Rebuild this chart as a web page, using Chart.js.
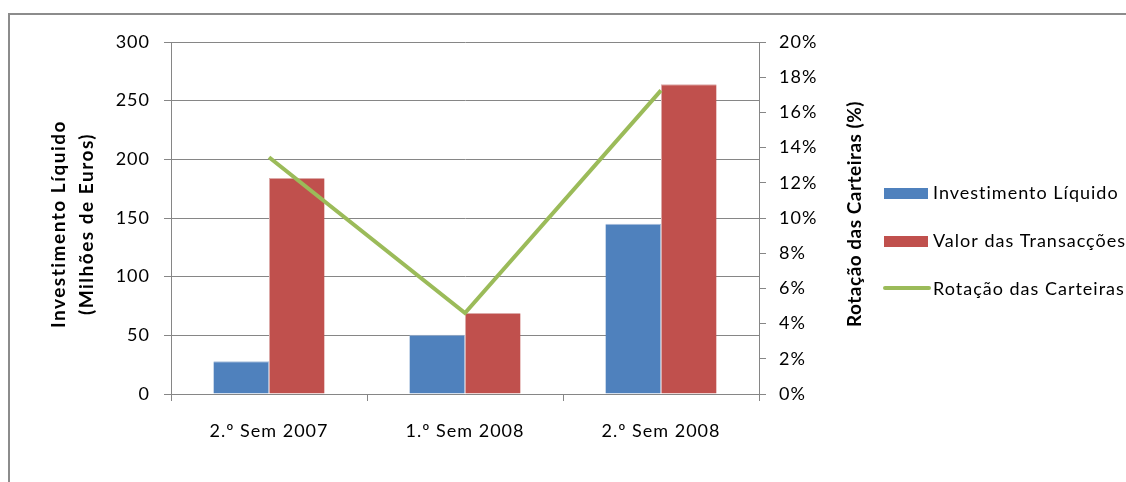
<!DOCTYPE html>
<html>
<head>
<meta charset="utf-8">
<script src="https://cdn.jsdelivr.net/npm/chart.js@4.4.1/dist/chart.umd.min.js"></script>
<style>
  html, body { margin: 0; padding: 0; background: #ffffff; }
  #wrap { width: 1126px; height: 482px; position: relative; }
</style>
</head>
<body>
<div id="wrap"><canvas id="c" width="1126" height="482"></canvas></div>
<script>
// Semesters shown on the category axis
const categories = ['2.º Sem 2007', '1.º Sem 2008', '2.º Sem 2008'];
// Net investment, millions of euros
const investimentoLiquido = [28, 50.5, 145];
// Transaction value, millions of euros
const valorTransaccoes = [184, 69, 264];
// Portfolio turnover, fraction (0.134 = 13.4 %)
const rotacaoCarteiras = [0.1345, 0.046, 0.1725];
// Axis ranges and tick steps
const leftTicks = { min: 0, max: 300, step: 50 };
const rightTicks = { min: 0, max: 0.20, step: 0.02 };

const FONT = 'Lato, "Open Sans", sans-serif';
const GRID = '#868686';

// Outer frame, axis titles and legend drawn on the canvas
const decorations = {
  id: 'decorations',
  beforeDraw(chart) {
    const ctx = chart.ctx;
    ctx.fillStyle = '#ffffff';
    ctx.fillRect(0, 0, chart.width, chart.height);
    ctx.strokeStyle = '#8c8c8c';
    ctx.lineWidth = 2;
    ctx.strokeRect(9, 14, 1300, 1300);
    // slightly open letter spacing for every label drawn afterwards
    ctx.letterSpacing = '1px';
  },
  afterDraw(chart) {
    const ctx = chart.ctx;
    ctx.save();
    ctx.fillStyle = '#000000';
    ctx.font = 'bold 19px ' + FONT;
    ctx.textAlign = 'center';
    ctx.textBaseline = 'middle';
    const midY = 224;
    const vertical = (text, x, y, spacing) => {
      ctx.save();
      ctx.letterSpacing = spacing;
      ctx.translate(x, y);
      ctx.rotate(-Math.PI / 2);
      ctx.fillText(text, 0, 0);
      ctx.restore();
    };
    vertical('Investimento Líquido', 59, midY, '1.5px');
    vertical('(Milhões de Euros)', 87, midY, '1.5px');
    vertical('Rotação das Carteiras (%)', 855, 214, '0.5px');

    // legend
    const ds = chart.data.datasets;
    const order = [1, 2, 0];
    const rowY = [193, 241, 289];
    ctx.font = '18px ' + FONT;
    ctx.letterSpacing = '1px';
    ctx.textAlign = 'left';
    order.forEach((di, i) => {
      const d = ds[di];
      const y = rowY[i];
      if (d.type === 'line') {
        ctx.strokeStyle = d.borderColor;
        ctx.lineWidth = 4;
        ctx.lineCap = 'round';
        ctx.beginPath();
        ctx.moveTo(885, y - 1);
        ctx.lineTo(929, y - 1);
        ctx.stroke();
      } else {
        ctx.fillStyle = d.backgroundColor;
        ctx.fillRect(884, y - 5, 44, 11);
      }
      ctx.fillStyle = '#000000';
      ctx.fillText(d.label, 933, y);
    });
    ctx.restore();
  }
};

new Chart(document.getElementById('c'), {
  data: {
    labels: categories,
    datasets: [
      {
        type: 'line',
        label: 'Rotação das Carteiras',
        data: rotacaoCarteiras,
        yAxisID: 'y2',
        borderColor: '#9BBB59',
        borderWidth: 4,
        pointRadius: 0,
        tension: 0,
        order: 0
      },
      {
        type: 'bar',
        label: 'Investimento Líquido',
        data: investimentoLiquido,
        yAxisID: 'y',
        backgroundColor: '#4F81BD',
        borderColor: '#a9bfdc',
        borderWidth: { top: 1, left: 0, right: 1, bottom: 0 },
        categoryPercentage: 0.567,
        barPercentage: 1,
        order: 1
      },
      {
        type: 'bar',
        label: 'Valor das Transacções',
        data: valorTransaccoes,
        yAxisID: 'y',
        backgroundColor: '#C0504D',
        borderColor: '#dca9a8',
        borderWidth: { top: 1, left: 1, right: 0, bottom: 0 },
        categoryPercentage: 0.567,
        barPercentage: 1,
        order: 1
      }
    ]
  },
  options: {
    responsive: false,
    animation: false,
    devicePixelRatio: 1,
    layout: { padding: { top: 42, left: 0, right: 0, bottom: 0 } },
    plugins: {
      legend: { display: false },
      tooltip: { enabled: false }
    },
    scales: {
      x: {
        offset: true,
        grid: {
          offset: true,
          drawOnChartArea: false,
          drawTicks: true,
          tickLength: 7,
          color: GRID,
          lineWidth: 1
        },
        border: { color: GRID, width: 1 },
        ticks: {
          color: '#000000',
          font: { family: FONT, size: 18 },
          padding: 19,
          maxRotation: 0
        },
        afterFit(scale) { scale.height = 88; }
      },
      y: {
        position: 'left',
        min: leftTicks.min,
        max: leftTicks.max,
        ticks: {
          stepSize: leftTicks.step,
          color: '#000000',
          font: { family: FONT, size: 18 },
          padding: 14
        },
        grid: {
          color: GRID,
          lineWidth: 1,
          tickLength: 7
        },
        border: { color: GRID, width: 1 },
        afterFit(scale) { scale.width = 171; }
      },
      y2: {
        position: 'right',
        min: rightTicks.min,
        max: rightTicks.max,
        ticks: {
          stepSize: rightTicks.step,
          color: '#000000',
          font: { family: FONT, size: 18 },
          padding: 13,
          callback: v => Math.round(v * 100) + '%'
        },
        grid: {
          drawOnChartArea: false,
          color: GRID,
          lineWidth: 1,
          tickLength: 7
        },
        border: { color: GRID, width: 1 },
        afterFit(scale) { scale.width = 1126 - 759; }
      }
    }
  },
  plugins: [decorations]
});
</script>
</body>
</html>
